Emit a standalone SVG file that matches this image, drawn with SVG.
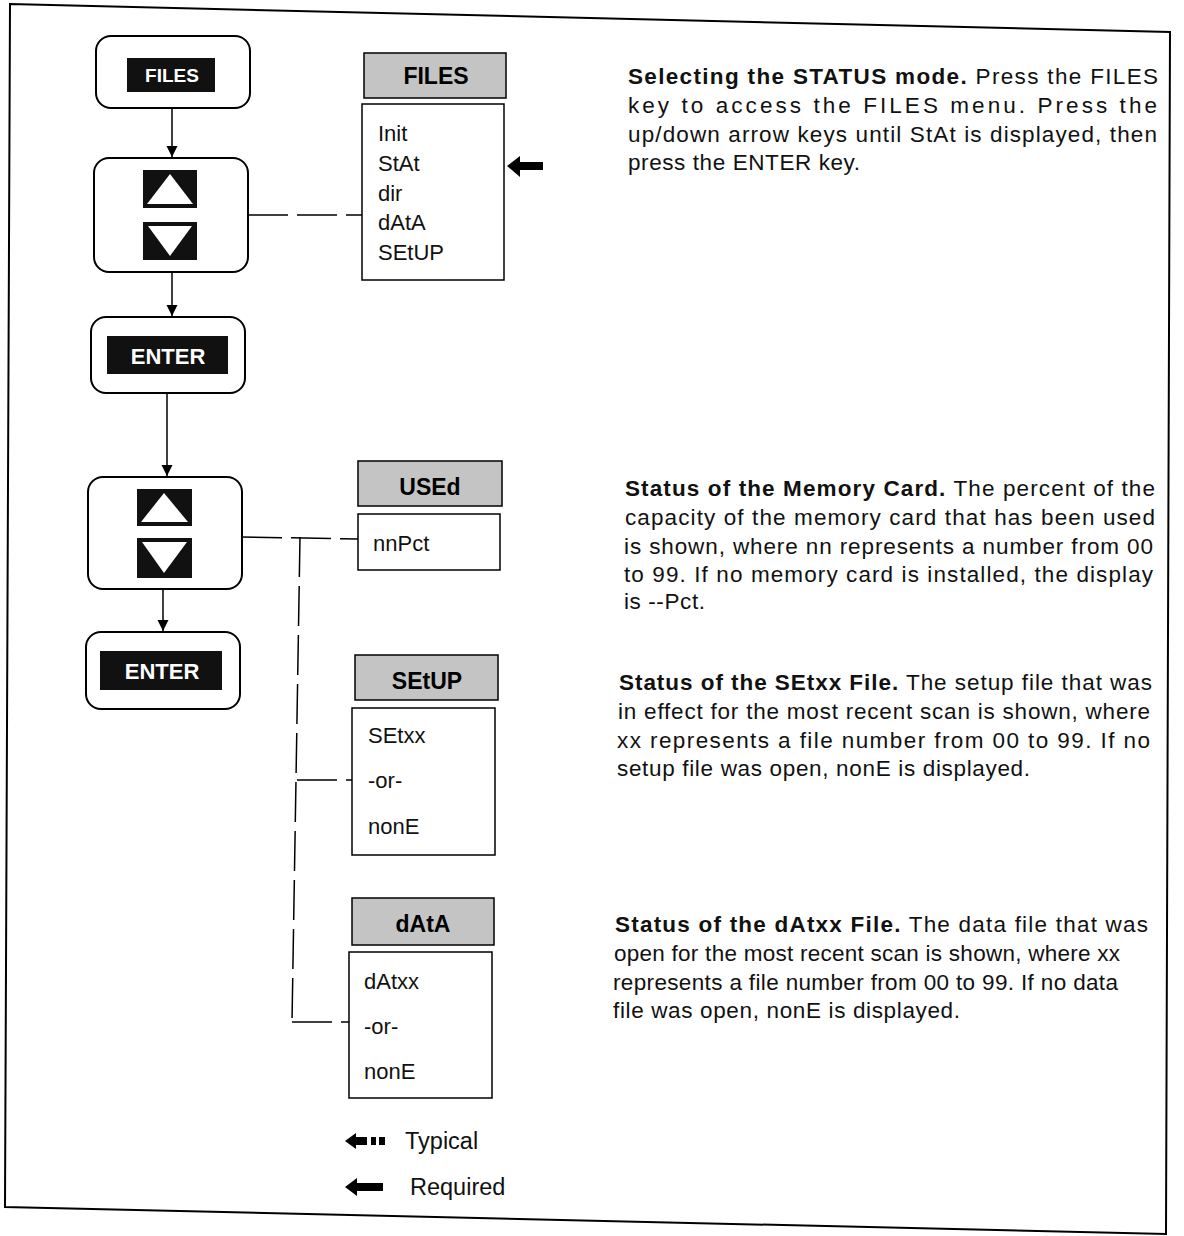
<svg xmlns="http://www.w3.org/2000/svg" width="1184" height="1236" viewBox="0 0 1184 1236">
<defs>
<style>
.key{fill:#fff;stroke:#000;stroke-width:2}
.cap{fill:#111}
.kt{font-family:"Liberation Sans",Arial,sans-serif;font-weight:bold;fill:#fff;text-anchor:middle}
.hdr{fill:#c4c4c4;stroke:#000;stroke-width:1.5}
.ht{font-family:"Liberation Sans",Arial,sans-serif;font-weight:bold;font-size:23px;fill:#000;text-anchor:middle}
.box{fill:#fff;stroke:#000;stroke-width:1.5}
.it{font-family:"Liberation Sans",Arial,sans-serif;font-size:22px;fill:#111}
.lg{font-family:"Liberation Sans",Arial,sans-serif;font-size:23.5px;fill:#111}
.flow{stroke:#000;stroke-width:1.5;fill:none}
.dash{stroke:#000;stroke-width:1.5;fill:none;stroke-dasharray:40 9}
.p{font-family:"Liberation Sans",Arial,sans-serif;font-size:22.5px;fill:#111}
.b{font-weight:bold}
</style>
<marker id="ahb" viewBox="0 0 10 10" refX="10" refY="5" markerWidth="11" markerHeight="12" markerUnits="userSpaceOnUse" orient="auto">
<path d="M0,0 L10,5 L0,10 z" fill="#000"/>
</marker>
</defs>
<rect width="1184" height="1236" fill="#fff"/>
<polygon points="10,4 1170,32 1166,1234 5,1207" fill="none" stroke="#000" stroke-width="2"/>

<g id="connectors">
<line class="flow" x1="172" y1="108" x2="172" y2="157" marker-end="url(#ahb)"/>
<line class="flow" x1="172" y1="272" x2="172" y2="316" marker-end="url(#ahb)"/>
<line class="flow" x1="167" y1="393" x2="167" y2="476" marker-end="url(#ahb)"/>
<line class="flow" x1="163" y1="589" x2="163" y2="631" marker-end="url(#ahb)"/>
<line class="dash" x1="248" y1="215" x2="362" y2="215"/>
<line class="dash" x1="242" y1="537" x2="358" y2="539"/>
<line class="dash" x1="300" y1="537" x2="292" y2="1022"/>
<line class="dash" x1="297" y1="780" x2="352" y2="780"/>
<line class="dash" x1="292" y1="1022" x2="349" y2="1022"/>
</g>

<g id="key-files">
<rect class="key" x="96" y="36" width="154" height="72" rx="15"/>
<rect class="cap" x="127" y="58" width="88" height="34"/>
<text class="kt" x="172" y="82" font-size="19">FILES</text>
</g>
<g id="key-updown-1">
<rect class="key" x="94" y="158" width="154" height="114" rx="15"/>
<rect class="cap" x="143" y="170" width="54" height="38"/>
<polygon points="170,174 147,204 193,204" fill="#fff"/>
<rect class="cap" x="143" y="222" width="54" height="38"/>
<polygon points="148,226 192,226 170,256" fill="#fff"/>
</g>
<g id="key-enter-1">
<rect class="key" x="91" y="317" width="154" height="76" rx="15"/>
<rect class="cap" x="107" y="336" width="121" height="38"/>
<text class="kt" x="168" y="364" font-size="22">ENTER</text>
</g>
<g id="key-updown-2">
<rect class="key" x="88" y="477" width="154" height="112" rx="15"/>
<rect class="cap" x="137" y="489" width="55" height="37"/>
<polygon points="164,493 141,522 188,522" fill="#fff"/>
<rect class="cap" x="137" y="538" width="55" height="40"/>
<polygon points="142,542 187,542 164,573" fill="#fff"/>
</g>
<g id="key-enter-2">
<rect class="key" x="86" y="632" width="154" height="77" rx="15"/>
<rect class="cap" x="100" y="651" width="122" height="39"/>
<text class="kt" x="162" y="679" font-size="22">ENTER</text>
</g>

<g id="menu-files">
<rect class="hdr" x="364" y="53" width="142" height="45"/>
<text class="ht" x="436" y="84">FILES</text>
<rect class="box" x="362" y="104" width="142" height="176"/>
<text class="it" x="378" y="141">Init</text>
<text class="it" x="378" y="171">StAt</text>
<text class="it" x="378" y="201">dir</text>
<text class="it" x="378" y="230">dAtA</text>
<text class="it" x="378" y="260">SEtUP</text>
</g>
<g id="required-arrow">
<polygon points="507,166 520,156 520,177" fill="#000"/>
<rect x="519" y="162" width="24" height="8" fill="#000"/>
</g>
<g id="menu-used">
<rect class="hdr" x="358" y="461" width="144" height="45"/>
<text class="ht" x="430" y="495">USEd</text>
<rect class="box" x="358" y="514" width="142" height="56"/>
<text class="it" x="373" y="551">nnPct</text>
</g>
<g id="menu-setup">
<rect class="hdr" x="355" y="655" width="143" height="45"/>
<text class="ht" x="427" y="689">SEtUP</text>
<rect class="box" x="352" y="708" width="143" height="147"/>
<text class="it" x="368" y="743">SEtxx</text>
<text class="it" x="368" y="788">-or-</text>
<text class="it" x="368" y="834">nonE</text>
</g>
<g id="menu-data">
<rect class="hdr" x="352" y="898" width="142" height="47"/>
<text class="ht" x="423" y="932">dAtA</text>
<rect class="box" x="349" y="952" width="143" height="146"/>
<text class="it" x="364" y="989">dAtxx</text>
<text class="it" x="364" y="1034">-or-</text>
<text class="it" x="364" y="1079">nonE</text>
</g>

<g id="legend">
<polygon points="345,1141 356,1133 356,1149" fill="#000"/>
<rect x="355" y="1137" width="12" height="8" fill="#000"/>
<rect x="371" y="1137" width="5" height="8" fill="#000"/>
<rect x="379" y="1137" width="6" height="8" fill="#000"/>
<text class="lg" x="405" y="1149">Typical</text>
<polygon points="345,1187 357,1178 357,1196" fill="#000"/>
<rect x="356" y="1183" width="27" height="8" fill="#000"/>
<text class="lg" x="410" y="1195">Required</text>
</g>

<g id="para-1">
<text class="p" x="628" y="84" textLength="530" lengthAdjust="spacing"><tspan class="b">Selecting the STATUS mode.</tspan>  Press the FILES</text>
<text class="p" x="628" y="113" textLength="529" lengthAdjust="spacing">key to access the FILES menu.  Press the</text>
<text class="p" x="628" y="142" textLength="529" lengthAdjust="spacing">up/down arrow keys until StAt is displayed, then</text>
<text class="p" x="628" y="170" textLength="232" lengthAdjust="spacing">press the ENTER key.</text>
</g>
<g id="para-2">
<text class="p" x="625" y="496" textLength="530" lengthAdjust="spacing"><tspan class="b">Status of the Memory Card.</tspan>  The percent of the</text>
<text class="p" x="625" y="525" textLength="530" lengthAdjust="spacing">capacity of the memory card that has been used</text>
<text class="p" x="624" y="554" textLength="529" lengthAdjust="spacing">is shown, where nn represents a number from 00</text>
<text class="p" x="624" y="582" textLength="529" lengthAdjust="spacing">to 99.   If no memory card is installed, the display</text>
<text class="p" x="624" y="609" textLength="81" lengthAdjust="spacing">is --Pct.</text>
</g>
<g id="para-3">
<text class="p" x="619" y="690" textLength="533" lengthAdjust="spacing"><tspan class="b">Status of the SEtxx File.</tspan>  The setup file that was</text>
<text class="p" x="618" y="719" textLength="532" lengthAdjust="spacing">in effect for the most recent scan is shown, where</text>
<text class="p" x="617" y="748" textLength="533" lengthAdjust="spacing">xx represents a file number from 00 to 99.  If no</text>
<text class="p" x="617" y="776" textLength="413" lengthAdjust="spacing">setup file was open, nonE is displayed.</text>
</g>
<g id="para-4">
<text class="p" x="615" y="932" textLength="533" lengthAdjust="spacing"><tspan class="b">Status of the dAtxx File.</tspan>  The data file that was</text>
<text class="p" x="614" y="961" textLength="506" lengthAdjust="spacing">open for the most recent scan is shown, where xx</text>
<text class="p" x="613" y="990" textLength="505" lengthAdjust="spacing">represents a file number from 00 to 99.  If no data</text>
<text class="p" x="613" y="1018" textLength="347" lengthAdjust="spacing">file was open, nonE is displayed.</text>
</g>
</svg>
